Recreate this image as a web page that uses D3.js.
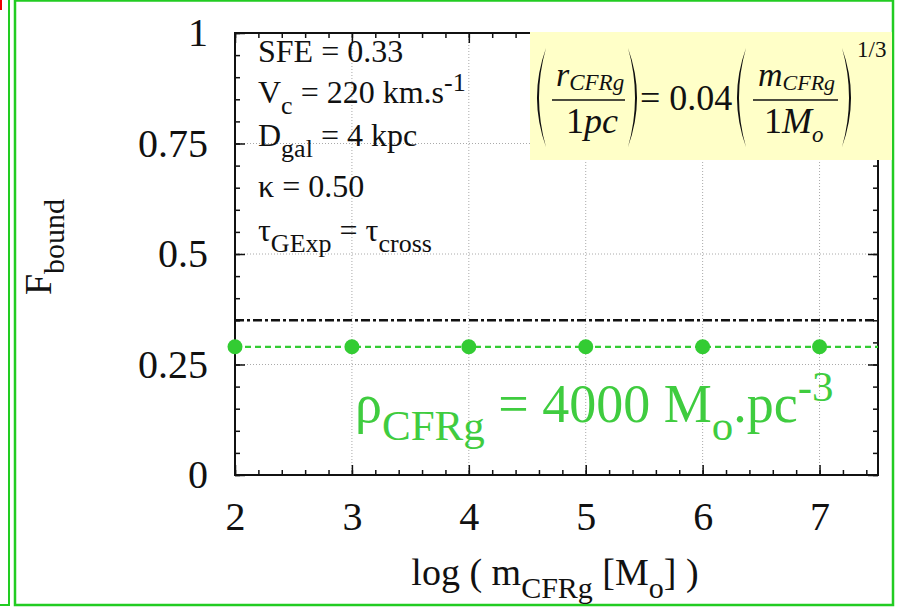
<!DOCTYPE html>
<html><head><meta charset="utf-8">
<script src="https://cdn.jsdelivr.net/npm/d3@7"></script>
<style>
body{margin:0;background:#fff}
text{font-family:"Liberation Serif","Times New Roman",serif;fill:#111}
</style>
</head><body>
<svg id="c" width="899" height="612"></svg>
<script>
// ---------- data ----------
const logMass = [2, 3, 4, 5, 6, 7];
const fBound = [0.29, 0.29, 0.29, 0.29, 0.29, 0.29];
const refLevel = 0.35;              // black dash-dot reference
const xTicks = [2, 3, 4, 5, 6, 7];
const xTickLabels = ["2", "3", "4", "5", "6", "7"];
const yTicks = [0, 0.25, 0.5, 0.75, 1];
const yTickLabels = ["0", "0.25", "0.5", "0.75", "1"];
const xDomain = [2, 7.5];
const yDomain = [0, 1];
const paramLines = [
  [["SFE = 0.33", "n"]],
  [["V", "n"], ["c", "sub"], [" = 220 km.s", "n"], ["-1", "sup"]],
  [["D", "n"], ["gal", "sub"], [" = 4 kpc", "n"]],
  [["\u03ba = 0.50", "n"]],
  [["\u03c4", "n"], ["GExp", "sub"], [" = \u03c4", "n"], ["cross", "sub"]]
];
const densityLabel = [["\u03c1", "n"], ["CFRg", "sub"], [" = 4000 M", "n"], ["o", "sub"], [".pc", "n"], ["-3", "sup"]];

// ---------- setup ----------
const svg = d3.select("#c");
const x = d3.scaleLinear().domain(xDomain).range([235, 878]);
const y = d3.scaleLinear().domain(yDomain).range([475, 33]);
const green = "#33cc33";
const FONT = '"Liberation Serif","Times New Roman",serif';

function rich(sel, segs, size, subScale, subShift) {
  let shift = 0;
  const ss = subScale || 0.8;
  const sh = subShift == null ? 0.33 : subShift;
  segs.forEach(([t, m, it]) => {
    const s = m === "n" ? size : Math.round(size * ss);
    const target = m === "sub" ? size * sh : m === "sup" ? -size * 0.38 : 0;
    sel.append("tspan").attr("font-size", s).attr("dy", target - shift)
      .attr("font-style", it ? "italic" : null).text(t);
    shift = target;
  });
}

// outer decorations (panel borders)
svg.append("rect").attr("x", 0).attr("y", 0).attr("width", 2).attr("height", 10).attr("fill", "#e00");
svg.append("path").attr("d", "M9,0V605H0").attr("fill", "none").attr("stroke", "#22cc22").attr("stroke-width", 2);
svg.append("rect").attr("x", 15).attr("y", 0.5).attr("width", 878).attr("height", 604.5)
  .attr("fill", "none").attr("stroke", "#22cc22").attr("stroke-width", 2.5);

// grid
const grid = svg.append("g").attr("stroke", "#aaa").attr("stroke-width", 1).attr("stroke-dasharray", "1,2");
grid.selectAll("line.v").data(xTicks.filter(d => d > xDomain[0])).join("line")
  .attr("x1", d => x(d)).attr("x2", d => x(d)).attr("y1", y(1)).attr("y2", y(0));
grid.selectAll("line.h").data(yTicks.filter(d => d > 0 && d < 1)).join("line")
  .attr("x1", x(xDomain[0])).attr("x2", x(xDomain[1])).attr("y1", d => y(d)).attr("y2", d => y(d));

// axes
const minorX = d3.range(2, 7.5 + 1e-9, 0.2);
const minorY = d3.range(0, 1 + 1e-9, 0.05);
function styleAxis(g) {
  g.select(".domain").remove();
  g.selectAll("line").attr("stroke", "#111").attr("stroke-width", 1.5);
  g.selectAll("text").attr("font-family", FONT).attr("font-size", 40).attr("fill", "#111");
}
svg.append("g").attr("transform", `translate(0,${y(0)})`)
  .call(d3.axisBottom(x).tickValues(minorX).tickSize(-5).tickFormat("")).call(styleAxis);
svg.append("g").attr("transform", `translate(0,${y(0)})`)
  .call(d3.axisBottom(x).tickValues(xTicks).tickFormat((d, i) => xTickLabels[i]).tickSizeInner(-10).tickSizeOuter(0).tickPadding(27)).call(styleAxis);
svg.append("g").attr("transform", `translate(0,${y(1)})`)
  .call(d3.axisTop(x).tickValues(minorX).tickSize(-5).tickFormat("")).call(styleAxis);
svg.append("g").attr("transform", `translate(0,${y(1)})`)
  .call(d3.axisTop(x).tickValues(xTicks).tickSize(-10).tickFormat("")).call(styleAxis);
svg.append("g").attr("transform", `translate(${x(2)},0)`)
  .call(d3.axisLeft(y).tickValues(minorY).tickSize(-5).tickFormat("")).call(styleAxis);
svg.append("g").attr("transform", `translate(${x(2)},0)`)
  .call(d3.axisLeft(y).tickValues(yTicks).tickFormat((d, i) => yTickLabels[i]).tickSizeInner(-10).tickSizeOuter(0).tickPadding(27)).call(styleAxis);
svg.append("g").attr("transform", `translate(${x(7.5)},0)`)
  .call(d3.axisRight(y).tickValues(minorY).tickSize(-5).tickFormat("")).call(styleAxis);
svg.append("g").attr("transform", `translate(${x(7.5)},0)`)
  .call(d3.axisRight(y).tickValues(yTicks).tickSize(-10).tickFormat("")).call(styleAxis);

// frame
svg.append("rect").attr("x", x(2)).attr("y", y(1)).attr("width", x(7.5) - x(2)).attr("height", y(0) - y(1))
  .attr("fill", "none").attr("stroke", "#111").attr("stroke-width", 2);

// reference dash-dot line
svg.append("line").attr("x1", x(2)).attr("x2", x(7.5)).attr("y1", y(refLevel)).attr("y2", y(refLevel))
  .attr("stroke", "#111").attr("stroke-width", 2.5).attr("stroke-dasharray", "9,3,3,3");

// green series
svg.append("line").attr("x1", x(2)).attr("x2", x(7.5)).attr("y1", y(fBound[0])).attr("y2", y(fBound[fBound.length - 1]))
  .attr("stroke", green).attr("stroke-width", 2.2).attr("stroke-dasharray", "6,4");
svg.selectAll("circle.pt").data(logMass).join("circle")
  .attr("cx", d => x(d)).attr("cy", (d, i) => y(fBound[i])).attr("r", 7.5).attr("fill", green);

// parameter block
const baselines = [62, 103, 146, 197, 241];
paramLines.forEach((segs, i) => {
  const t = svg.append("text").attr("x", 258).attr("y", baselines[i]).attr("font-size", 32);
  rich(t, segs, 32);
});

// density label
const dl = svg.append("text").attr("x", 355).attr("y", 422).attr("font-size", 54).style("fill", "#3fcc3f");
rich(dl, densityLabel, 54);

// axis titles
const xt = svg.append("text").attr("x", 555).attr("y", 585).attr("text-anchor", "middle").attr("font-size", 38);
rich(xt, [["log ( m", "n"], ["CFRg", "sub"], [" [M", "n"], ["o", "sub"], ["] )", "n"]], 38);
const yt = svg.append("text").attr("transform", "translate(51,247) rotate(-90)").attr("text-anchor", "middle").attr("font-size", 38);
rich(yt, [["F", "n"], ["bound", "sub"]], 38);

// formula box
svg.append("rect").attr("x", 530).attr("y", 32).attr("width", 362).attr("height", 128).attr("fill", "#ffffc8");
const f = svg.append("g");
function paren(x0, left) {
  const w = 9, top = 48, bot = 147, mid = (top + bot) / 2;
  const d = left
    ? `M${x0 + w},${top} Q${x0 - w},${mid} ${x0 + w},${bot} Q${x0 - w + 4},${mid} ${x0 + w},${top} Z`
    : `M${x0},${top} Q${x0 + 2 * w},${mid} ${x0},${bot} Q${x0 + 2 * w - 4},${mid} ${x0},${top} Z`;
  f.append("path").attr("d", d).attr("fill", "#111");
}
paren(537, true); paren(628, false); paren(737, true); paren(842, false);
f.append("line").attr("x1", 552).attr("x2", 625).attr("y1", 100).attr("y2", 100).attr("stroke", "#111").attr("stroke-width", 1.6);
f.append("line").attr("x1", 753).attr("x2", 838).attr("y1", 100).attr("y2", 100).attr("stroke", "#111").attr("stroke-width", 1.6);
rich(f.append("text").attr("x", 556).attr("y", 86).attr("font-size", 34), [["r", "n", 1], ["CFRg", "sub", 1]], 34, 0.68, 0.12);
rich(f.append("text").attr("x", 566).attr("y", 133).attr("font-size", 36), [["1", "n"], ["pc", "n", 1]], 36);
rich(f.append("text").attr("x", 640).attr("y", 110).attr("font-size", 36), [["= 0.04", "n"]], 36);
rich(f.append("text").attr("x", 758).attr("y", 86).attr("font-size", 34), [["m", "n", 1], ["CFRg", "sub", 1]], 34, 0.66, 0.12);
rich(f.append("text").attr("x", 764).attr("y", 133).attr("font-size", 36), [["1", "n"], ["M", "n", 1], ["o", "sub", 1]], 36, 0.64, 0.25);
rich(f.append("text").attr("x", 857).attr("y", 57).attr("font-size", 23), [["1/3", "n"]], 23);
</script>
</body></html>
